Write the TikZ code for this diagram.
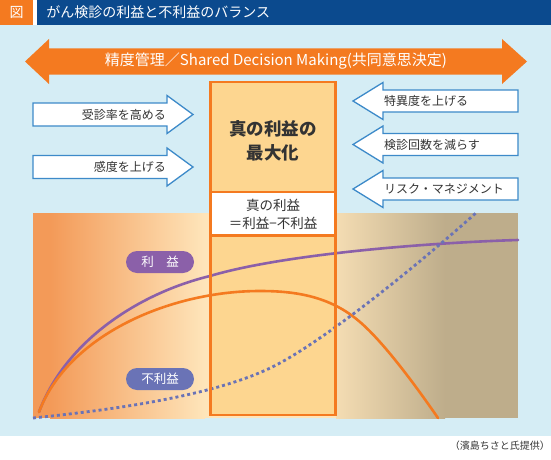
\documentclass[tikz,border=0pt]{standalone}
\usepackage{fontspec}
\setmainfont{Noto Sans CJK JP}
\usepackage{xcolor}
\usepackage{tikz}
\usetikzlibrary{positioning}
\definecolor{skybg}{HTML}{D5EDF5}
\definecolor{titleblue}{HTML}{0B4A8E}
\definecolor{mainorange}{HTML}{F47A20}
\definecolor{boxfill}{HTML}{FDD690}
\definecolor{arrowblue}{HTML}{3D8AC9}
\definecolor{benefit}{HTML}{8B60A9}
\definecolor{harm}{HTML}{6A73B6}
\definecolor{deeporange}{HTML}{F39A58}
\definecolor{cream}{HTML}{FEE5BA}
\definecolor{tanbrown}{HTML}{BEAD8B}
\definecolor{txtgray}{HTML}{333333}

\begin{document}
\begin{tikzpicture}[
  x=1pt, y=-1pt,
  barrow/.style={draw=arrowblue, fill=white, line width=1.3pt, line join=miter},
  btext/.style={font=\fontsize{12}{14}\selectfont, text=txtgray, inner sep=0pt},
  pill/.style={rounded corners=11pt, minimum width=68pt, minimum height=22pt, inner sep=0pt, text=white, font=\fontsize{12.5}{14}\selectfont},
  curve/.style={line width=2.6pt, line cap=round},
  boxline/.style={draw=mainorange, line width=2.5pt}
]
\useasboundingbox (0,0) rectangle (551,460);

% title bar
\node[fill=mainorange, minimum width=33pt, minimum height=25pt, inner sep=0pt, text=white, font=\fontsize{14}{16}\selectfont] (figtag) at (16.5,12.5) {図};
\node[fill=titleblue, text width=496pt, inner xsep=9pt, minimum height=25pt, align=left, text=white, font=\fontsize{14}{16}\selectfont, right=4pt of figtag] (titlebar) {がん検診の利益と不利益のバランス};

% background
\fill[skybg] (0,25) rectangle (551,436);

% chart background
\fill[deeporange] (33,213) rectangle (50,418);
\fill[left color=deeporange, right color=cream] (50,213) rectangle (205,418);
\fill[cream] (205,213) rectangle (340,418);
\fill[left color=cream!85!tanbrown, right color=tanbrown] (336,213) rectangle (445,418);
\fill[tanbrown] (445,213) rectangle (518,418);

% double arrow
\fill[mainorange] (25,61.5) -- (49,39) -- (49,48.5) -- (502,48.5) -- (502,39) -- (527,61.5)
  -- (502,84) -- (502,74.5) -- (49,74.5) -- (49,84) -- cycle;
\node[text=white, font=\fontsize{15}{17}\selectfont] (sdm) at (276,61.5) {精度管理／Shared Decision Making(共同意思決定)};

% arrows into the box
\draw[barrow] (33,103) -- (167,103) -- (167,95.5) -- (193,114.5) -- (167,133.5) -- (167,126) -- (33,126) -- cycle;
\node[btext, anchor=east] (uptake) at (166,114.5) {受診率を高める};
\draw[barrow] (33,155.5) -- (167,155.5) -- (167,148) -- (193,167) -- (167,186) -- (167,178.5) -- (33,178.5) -- cycle;
\node[btext, anchor=east] (sens) at (166,167) {感度を上げる};

\draw[barrow] (518,90) -- (383,90) -- (383,82.5) -- (353,101) -- (383,119.5) -- (383,112) -- (518,112) -- cycle;
\node[btext, anchor=west] (spec) at (384,101) {特異度を上げる};
\draw[barrow] (518,133.5) -- (383,133.5) -- (383,126) -- (353,144.5) -- (383,163) -- (383,155.5) -- (518,155.5) -- cycle;
\node[btext, anchor=west] (freq) at (384,144.5) {検診回数を減らす};
\draw[barrow] (518,178) -- (383,178) -- (383,170.5) -- (353,189) -- (383,207.5) -- (383,200) -- (518,200) -- cycle;
\node[btext, anchor=west] (risk) at (384,189) {リスク・マネジメント};

% central box
\node[fill=boxfill, minimum width=125pt, minimum height=110pt, inner sep=0pt] (goal) at (273,137) {};
\node[fill=white, minimum width=125pt, minimum height=43pt, inner sep=0pt, below=0pt of goal, align=center, text=txtgray, font=\fontsize{13.5}{18}\selectfont] (formula) {真の利益\\＝利益−不利益};
\node[fill=boxfill, minimum width=125pt, minimum height=179pt, inner sep=0pt, below=0pt of formula] (area) {};
\node[align=center, text=txtgray, font=\fontsize{17.5}{24}\selectfont\bfseries] (goaltext) at (273,141) {真の利益の\\最大化};

% curves
\draw[curve, benefit] (39,412) .. controls (66,340) and (140,293) .. (210,276)
  .. controls (280,255) and (420,243) .. (518,240);
\draw[curve, mainorange] (39,412) .. controls (68,335) and (170,291) .. (260,291)
  .. controls (295,291) and (330,296) .. (360,322)
  .. controls (385,343.5) and (418,389) .. (438,418);
\draw[harm, line width=2.8pt, dash pattern=on 3pt off 3pt] (33,418) .. controls (110,410) and (220,396) .. (280,363)
  .. controls (335,333) and (427,257) .. (477,212);

% box border
\draw[boxline] (goal.north west) rectangle (area.south east);
\draw[boxline] (formula.north west) -- (formula.north east) (formula.south west) -- (formula.south east);

% labels
\node[pill, fill=benefit] (benefitlbl) at (160,262) {利　益};
\node[pill, fill=harm] (harmlbl) at (160,379) {不利益};

\node[anchor=east, text=txtgray, font=\fontsize{10}{12}\selectfont, inner sep=0pt] (credit) at (550,446) {（濱島ちさと氏提供）};
\end{tikzpicture}
\end{document}
